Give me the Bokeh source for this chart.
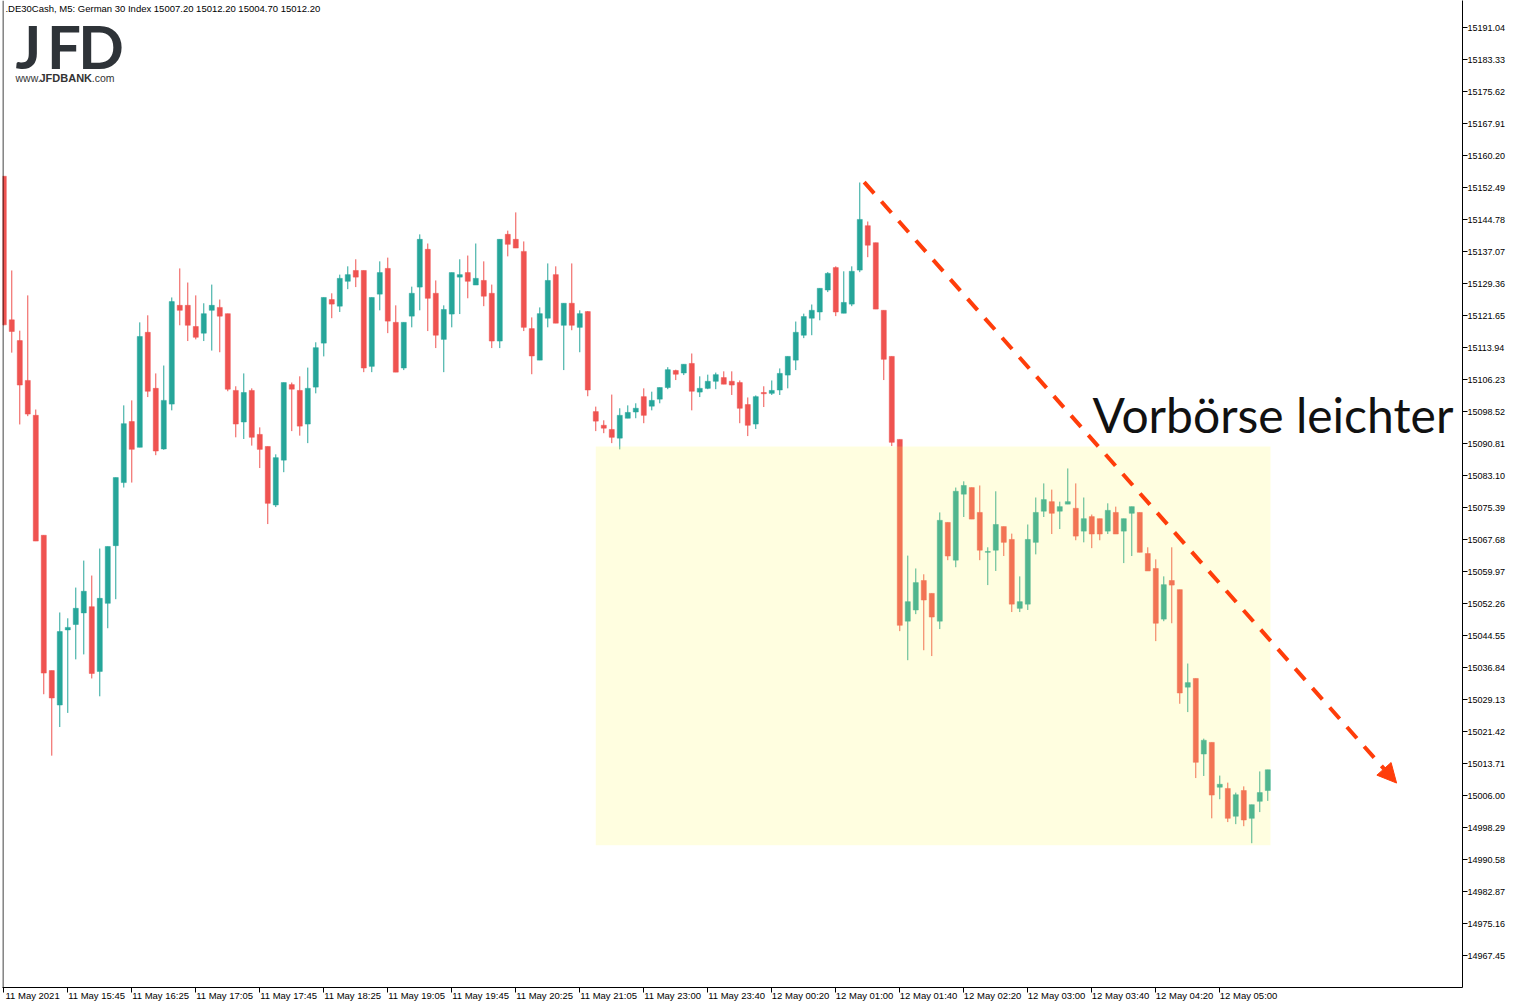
import numpy as np
from bokeh.plotting import figure
from bokeh.models import (ColumnDataSource, FixedTicker, PrintfTickFormatter, Range1d,
                          BoxAnnotation, Arrow, NormalHead, Label, Span)
from bokeh.embed import file_html
from bokeh.resources import INLINE

# DE30Cash M5 candles, 11 May 2021 15:05 -> 12 May 2021 05:15
opens = [15155.2, 15120.6, 15115.6, 15106.0, 15097.6, 15068.7, 15036.1, 15027.8, 15045.9, 15047.2,
         15050.0, 15051.5, 15035.9, 15052.3, 15066.2, 15081.4, 15096.1, 15089.9, 15117.6, 15104.1,
         15089.5, 15100.3, 15124.1, 15124.1, 15119.0, 15117.4, 15122.9, 15123.6, 15122.1, 15103.6,
         15096.0, 15103.6, 15093.0, 15090.1, 15076.0, 15086.8, 15105.0, 15103.6, 15095.5, 15104.4,
         15115.0, 15125.5, 15123.9, 15129.9, 15132.5, 15132.5, 15109.4, 15126.8, 15133.0, 15120.0,
         15109.0, 15121.5, 15128.5, 15137.6, 15127.0, 15115.9, 15122.0, 15130.9, 15132.0, 15129.0,
         15130.1, 15127.0, 15115.5, 15141.2, 15140.0, 15137.1, 15118.5, 15110.9, 15121.0, 15131.5,
         15119.3, 15124.6, 15118.8, 15122.6, 15098.5, 15095.2, 15094.2, 15092.1, 15096.9, 15098.4,
         15102.1, 15099.8, 15101.5, 15104.3, 15108.4, 15107.8, 15110.1, 15103.2, 15104.1, 15105.8,
         15106.7, 15105.8, 15105.5, 15100.2, 15095.5, 15103.1, 15102.9, 15103.7, 15107.3, 15110.9,
         15116.9, 15121.0, 15122.5, 15127.8, 15133.2, 15122.2, 15124.4, 15132.6, 15143.3, 15139.2,
         15122.9, 15111.8, 15091.8, 15048.0, 15050.7, 15057.8, 15054.7, 15048.0, 15071.8, 15062.7,
         15078.6, 15080.2, 15074.2, 15064.6, 15065.1, 15070.8, 15067.7, 15051.1, 15052.1, 15067.0,
         15074.5, 15076.8, 15074.5, 15076.2, 15075.2, 15069.7, 15073.2, 15072.7, 15069.7, 15074.2,
         15069.7, 15074.0, 15074.2, 15064.3, 15060.7, 15048.5, 15057.8, 15055.6, 15032.1, 15034.2,
         15016.0, 15018.8, 15008.0, 15007.7, 15001.0, 15007.2, 15000.5, 15004.6, 15007.2]

highs = [15155.2, 15132.5, 15118.0, 15126.5, 15099.0, 15068.7, 15036.1, 15050.1, 15048.7, 15056.1,
         15062.6, 15059.0, 15065.5, 15066.0, 15082.6, 15100.0, 15101.2, 15120.0, 15121.7, 15107.7,
         15109.6, 15126.0, 15133.0, 15129.6, 15126.5, 15124.6, 15129.1, 15125.5, 15122.1, 15104.6,
         15107.7, 15104.1, 15094.7, 15090.1, 15088.2, 15105.5, 15105.5, 15107.0, 15109.1, 15115.2,
         15126.0, 15127.0, 15131.5, 15133.5, 15135.2, 15132.5, 15126.0, 15134.7, 15135.6, 15124.1,
         15120.0, 15128.6, 15141.2, 15139.0, 15130.1, 15124.1, 15132.0, 15135.2, 15136.1, 15139.0,
         15134.7, 15129.1, 15140.0, 15142.1, 15146.5, 15139.5, 15121.2, 15123.6, 15134.2, 15133.5,
         15124.6, 15134.2, 15122.9, 15122.7, 15099.7, 15096.4, 15102.6, 15099.3, 15100.0, 15100.5,
         15104.1, 15103.3, 15104.3, 15109.2, 15108.6, 15109.9, 15112.5, 15107.0, 15107.4, 15107.9,
         15108.2, 15108.2, 15106.0, 15101.9, 15102.4, 15104.6, 15106.0, 15108.9, 15111.8, 15120.2,
         15122.1, 15124.3, 15128.2, 15132.1, 15133.5, 15132.3, 15133.5, 15153.7, 15144.3, 15139.2,
         15122.9, 15111.8, 15091.8, 15063.8, 15060.7, 15059.3, 15054.7, 15074.2, 15071.8, 15080.2,
         15081.7, 15080.2, 15080.7, 15065.8, 15079.3, 15070.8, 15069.1, 15058.8, 15071.3, 15077.8,
         15081.2, 15079.7, 15076.8, 15084.8, 15081.2, 15077.8, 15073.7, 15072.7, 15076.4, 15075.6,
         15072.7, 15075.6, 15074.2, 15065.8, 15062.9, 15058.8, 15065.8, 15055.6, 15037.8, 15034.2,
         15019.7, 15018.8, 15010.8, 15009.1, 15006.7, 15008.2, 15003.8, 15011.8, 15012.2]

lows = [15119.3, 15112.7, 15095.4, 15097.4, 15067.3, 15030.4, 15015.6, 15022.5, 15025.9, 15038.8,
        15040.0, 15034.2, 15029.9, 15046.3, 15053.3, 15080.2, 15081.4, 15089.9, 15102.0, 15088.0,
        15089.3, 15098.8, 15119.3, 15115.5, 15115.9, 15115.5, 15113.2, 15112.8, 15103.4, 15092.3,
        15091.9, 15090.3, 15084.9, 15071.4, 15075.5, 15083.9, 15093.8, 15092.7, 15090.9, 15102.9,
        15111.8, 15121.0, 15122.5, 15128.0, 15128.5, 15108.0, 15108.0, 15122.9, 15117.4, 15108.0,
        15108.5, 15118.8, 15122.9, 15117.9, 15113.8, 15108.0, 15118.8, 15122.0, 15125.8, 15129.0,
        15123.9, 15113.8, 15113.8, 15135.9, 15137.9, 15117.9, 15107.5, 15110.9, 15118.8, 15119.8,
        15108.5, 15118.1, 15112.8, 15102.2, 15093.8, 15093.3, 15090.9, 15089.4, 15096.9, 15096.9,
        15095.7, 15098.8, 15100.5, 15103.9, 15106.1, 15107.3, 15098.8, 15102.0, 15103.9, 15103.9,
        15105.1, 15102.5, 15095.7, 15092.6, 15094.3, 15099.6, 15102.5, 15102.5, 15104.1, 15108.5,
        15116.2, 15116.9, 15120.5, 15127.3, 15121.5, 15122.2, 15123.9, 15132.1, 15135.7, 15123.2,
        15106.1, 15090.2, 15045.6, 15038.6, 15049.7, 15041.0, 15039.6, 15046.1, 15062.7, 15061.0,
        15073.1, 15072.6, 15062.7, 15056.7, 15060.1, 15063.7, 15050.2, 15050.2, 15050.7, 15064.1,
        15073.1, 15069.0, 15070.2, 15076.2, 15067.5, 15067.0, 15065.6, 15067.5, 15069.0, 15069.0,
        15062.0, 15063.7, 15064.6, 15060.1, 15043.2, 15048.0, 15047.5, 15028.1, 15026.1, 15010.2,
        15010.7, 15000.5, 15005.1, 14999.6, 14999.1, 14998.6, 14994.5, 15002.0, 15004.7]

closes = [15119.4, 15117.8, 15104.9, 15097.9, 15067.3, 15035.5, 15029.5, 15045.5, 15046.5, 15051.1,
          15055.2, 15035.4, 15053.5, 15066.0, 15082.6, 15095.6, 15089.4, 15116.6, 15103.4, 15089.0,
          15101.2, 15125.0, 15122.9, 15119.3, 15116.4, 15122.1, 15124.1, 15121.5, 15103.9, 15095.5,
          15103.1, 15092.3, 15089.4, 15076.4, 15087.4, 15105.5, 15103.9, 15095.0, 15104.1, 15113.9,
          15126.0, 15124.4, 15130.6, 15131.5, 15130.9, 15109.0, 15126.0, 15132.0, 15120.3, 15108.0,
          15120.0, 15127.0, 15140.0, 15125.8, 15116.9, 15123.1, 15132.0, 15131.5, 15129.9, 15130.6,
          15126.3, 15115.5, 15140.0, 15138.8, 15137.9, 15118.8, 15111.9, 15122.1, 15130.1, 15119.8,
          15124.6, 15119.3, 15122.1, 15103.7, 15096.2, 15094.5, 15092.3, 15097.6, 15098.3, 15099.3,
          15097.6, 15101.2, 15104.3, 15108.6, 15107.5, 15109.9, 15103.4, 15104.1, 15105.8, 15107.4,
          15105.1, 15104.9, 15099.3, 15095.2, 15102.1, 15102.8, 15103.6, 15107.7, 15111.8, 15117.6,
          15121.4, 15122.9, 15128.2, 15131.8, 15122.5, 15124.8, 15132.3, 15144.8, 15138.6, 15123.2,
          15111.1, 15091.1, 15047.0, 15052.7, 15057.3, 15053.1, 15049.0, 15072.3, 15063.7, 15079.3,
          15080.7, 15072.6, 15065.1, 15064.8, 15071.3, 15067.0, 15052.1, 15052.7, 15067.7, 15074.2,
          15077.3, 15074.0, 15075.6, 15076.8, 15068.5, 15072.7, 15069.0, 15069.0, 15074.7, 15069.0,
          15072.7, 15075.6, 15064.6, 15060.1, 15047.5, 15056.8, 15056.7, 15030.7, 15033.2, 15014.0,
          15019.3, 15006.1, 15008.7, 15000.5, 15006.2, 15000.1, 15003.8, 15006.7, 15012.2]

# time axis: one label every 8 bars
time_tick_bars = [0, 8, 16, 24, 32, 40, 48, 56, 64, 72, 80, 88, 96, 104, 112, 120, 128, 136, 144, 152]
time_labels = ["11 May 2021", "11 May 15:45", "11 May 16:25", "11 May 17:05", "11 May 17:45",
               "11 May 18:25", "11 May 19:05", "11 May 19:45", "11 May 20:25", "11 May 21:05",
               "11 May 23:00", "11 May 23:40", "12 May 00:20", "12 May 01:00", "12 May 01:40",
               "12 May 02:20", "12 May 03:00", "12 May 03:40", "12 May 04:20", "12 May 05:00"]

price_ticks = [15191.04, 15183.33, 15175.62, 15167.91, 15160.20, 15152.49, 15144.78, 15137.07,
               15129.36, 15121.65, 15113.94, 15106.23, 15098.52, 15090.81, 15083.10, 15075.39,
               15067.68, 15059.97, 15052.26, 15044.55, 15036.84, 15029.13, 15021.42, 15013.71,
               15006.00, 14998.29, 14990.58, 14982.87, 14975.16, 14967.45]

# highlighted pre-market zone and the drawn trend arrow
zone_first_bar, zone_last_bar = 74, 158
zone_high, zone_low = 15090.1, 14994.0
arrow_from = (107.55, 15153.8)
arrow_to = (174.1, 15009.0)

header = ".DE30Cash, M5:  German 30 Index  15007.20 15012.20 15004.70 15012.20"
note = "Vorbörse leichter"

UP = "#26A69A"
DOWN = "#EF5350"
ARROW = "#FF3D0A"
AXIS_FONT = "Liberation Sans"

idx = np.arange(len(opens))
o = np.array(opens)
c = np.array(closes)
up = c >= o
df = dict(x=idx, open=o, close=c, high=np.array(highs), low=np.array(lows),
          top=np.maximum(o, c), bottom=np.minimum(o, c))
src_up = ColumnDataSource({k: v[up] for k, v in df.items()})
src_dn = ColumnDataSource({k: v[~up] for k, v in df.items()})

p = figure(width=1520, height=1008, output_backend="svg", toolbar_location=None,
           x_range=Range1d(-0.16, 182.34), y_range=Range1d(14959.74, 15197.55),
           y_axis_location="right", min_border_left=2, min_border_top=0,
           min_border_right=58, min_border_bottom=21)
p.background_fill_color = "white"
p.border_fill_color = "white"
p.outline_line_color = None
p.xgrid.visible = False
p.ygrid.visible = False

for src, col in ((src_up, UP), (src_dn, DOWN)):
    p.segment(x0="x", y0="high", x1="x", y1="low", source=src, line_color=col, line_width=1)
    p.vbar(x="x", top="top", bottom="bottom", width=0.63, source=src,
           fill_color=col, line_color=col, line_width=0.5)

# price axis on the right
ya = p.yaxis[0]
ya.ticker = FixedTicker(ticks=price_ticks)
ya.formatter = PrintfTickFormatter(format="%.2f")
ya.major_tick_out = 5
ya.major_tick_in = 0
ya.minor_tick_out = 0
ya.minor_tick_in = 0
ya.major_label_standoff = 0
ya.major_label_text_font = AXIS_FONT
ya.major_label_text_font_size = "9px"
ya.major_label_text_color = "black"
ya.axis_line_color = "black"

# time axis: labels start at the tick, so they sit half a label to the right
xa = p.xaxis[0]
label_pos = [b + 3.6 for b in time_tick_bars]
xa.ticker = FixedTicker(ticks=label_pos, minor_ticks=time_tick_bars)
xa.major_label_overrides = {pos: lab for pos, lab in zip(label_pos, time_labels)}
xa.major_tick_out = 0
xa.major_tick_in = 0
xa.minor_tick_out = 5
xa.minor_tick_in = 0
xa.minor_tick_line_color = "black"
xa.major_label_standoff = -3
xa.major_label_text_font = AXIS_FONT
xa.major_label_text_font_size = "9.5px"
xa.major_label_text_color = "black"
xa.axis_line_color = "black"

p.add_layout(Span(location=-0.1, dimension="height", line_color="black", line_width=1))

p.add_layout(BoxAnnotation(left=zone_first_bar, right=zone_last_bar + 0.34, top=zone_high, bottom=zone_low,
                           fill_color="#FFF864", fill_alpha=0.2, line_color=None))

p.add_layout(Arrow(x_start=arrow_from[0], y_start=arrow_from[1], x_end=arrow_to[0], y_end=arrow_to[1],
                   line_color=ARROW, line_width=4, line_dash="15 11",
                   end=NormalHead(size=19, fill_color=ARROW, line_color=ARROW, line_width=1)))

# header line and logo
p.add_layout(Label(x=0.21, y=15195.6, text=header, text_font=AXIS_FONT,
                   text_font_size="9.5px", text_color="black", text_baseline="alphabetic"))
for letter, lx in (("J", 1.46), ("F", 5.4), ("D", 9.3)):
    p.add_layout(Label(x=lx, y=15186.7, text=letter, text_font="Lato", text_font_style="bold",
                       text_font_size="60px", text_color="#2E3338", text_baseline="alphabetic"))
p.add_layout(Label(x=1.46, y=15178.8, text="www.", text_font=AXIS_FONT,
                   text_font_size="10.5px", text_color="#333333", text_baseline="alphabetic"))
p.add_layout(Label(x=4.46, y=15178.8, text="JFDBANK", text_font=AXIS_FONT, text_font_style="bold",
                   text_font_size="11px", text_color="#333333", text_baseline="alphabetic"))
p.add_layout(Label(x=11.0, y=15178.8, text=".com", text_font=AXIS_FONT,
                   text_font_size="10.5px", text_color="#333333", text_baseline="alphabetic"))

p.add_layout(Label(x=136.09, y=15097.9, text=note, text_font="Lato",
                   text_font_size="48px", text_color="#111111", text_baseline="alphabetic"))

open("out.html", "w").write(file_html(p, INLINE))
